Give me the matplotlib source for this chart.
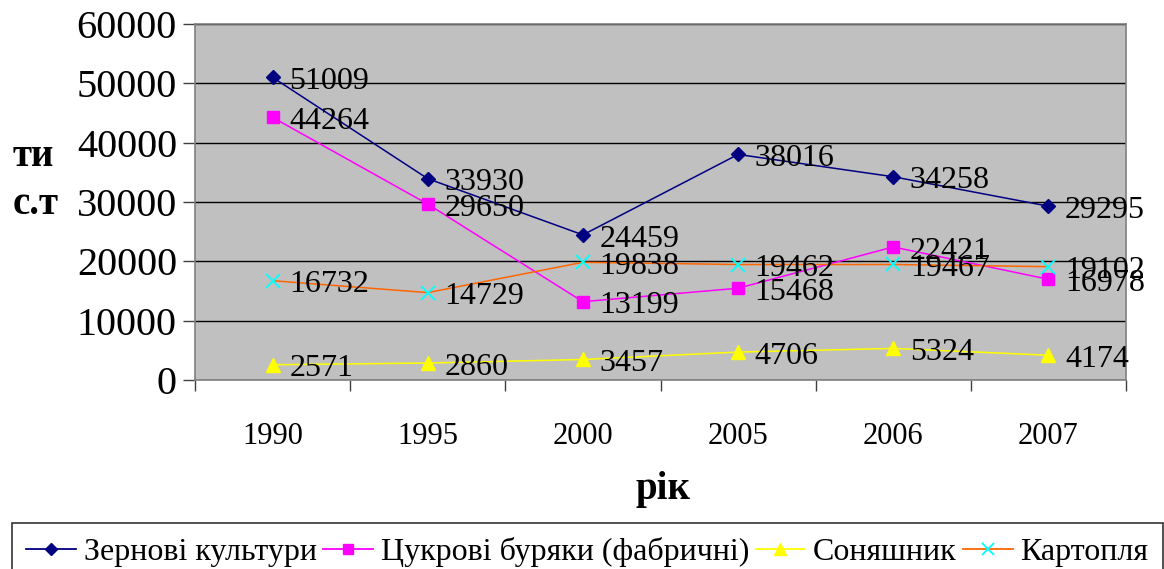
import matplotlib
matplotlib.use("Agg")
import matplotlib.pyplot as plt
from matplotlib.lines import Line2D

years = ["1990", "1995", "2000", "2005", "2006", "2007"]
grain = [51009, 33930, 24459, 38016, 34258, 29295]
beet = [44264, 29650, 13199, 15468, 22421, 16978]
sunflower = [2571, 2860, 3457, 4706, 5324, 4174]
potato = [16732, 14729, 19838, 19462, 19467, 19102]
series_names = ["Зернові культури", "Цукрові буряки (фабричні)", "Соняшник", "Картопля"]
y_ticks = [0, 10000, 20000, 30000, 40000, 50000, 60000]

plt.rcParams['font.family'] = ['Liberation Serif', 'DejaVu Serif']

W, H = 1164, 569
fig = plt.figure(figsize=(W / 100, H / 100), dpi=100)
ax = fig.add_axes([195 / W, 1 - 380 / H, (1126 - 195) / W, (380 - 24) / H])
ax.set_facecolor('#C0C0C0')

x = list(range(len(years)))
styles = [
    dict(color='#000080', marker='D', ms=7, mfc='#000080', mec='#000080'),
    dict(color='#FF00FF', marker='s', ms=9, mfc='#FF00FF', mec='#FF00FF'),
    dict(color='#FFFF00', marker='^', ms=10, mfc='#FFFF00', mec='#FFFF00'),
    dict(color='#FF6600', marker='x', ms=10, mfc='#00FFFF', mec='#00FFFF', mew=1.3),
]
data = [grain, beet, sunflower, potato]
handles = []
for vals, st, name in zip(data, styles, series_names):
    ax.plot(x, vals, lw=1.1, zorder=3, **st)
    hst = dict(st)
    hst['ms'] = st['ms'] * 0.85
    handles.append(Line2D([0], [0], lw=1.3, label=name, **hst))
    for xi, v in zip(x, vals):
        ax.annotate(str(v), (xi, v), xytext=(12, -3), textcoords='offset points',
                    ha='left', va='center', fontsize=23, zorder=4, annotation_clip=False)

ax.set_ylim(0, 60000)
ax.set_xlim(-0.5, len(years) - 0.5)
ax.set_yticks(y_ticks)
ax.set_yticklabels([str(t) for t in y_ticks], fontsize=29)
ax.tick_params(axis='y', length=9, width=1, color='#404040', pad=4, direction='out')
ax.yaxis.grid(True, color='black', lw=1)
ax.set_axisbelow(True)

ax.set_xticks(x)
ax.set_xticklabels(years, fontsize=22)
ax.tick_params(axis='x', which='major', length=0, pad=30)
ax.set_xticks([i - 0.5 for i in range(len(years) + 1)], minor=True)
ax.tick_params(axis='x', which='minor', length=8, width=1, color='#404040', direction='out')

for s in ax.spines.values():
    s.set_color('#808080')
    s.set_linewidth(1.2)

fig.text(13 / W, 1 - 157 / H, "ти", fontsize=28, fontweight='bold', ha='left', va='center')
fig.text(13 / W, 1 - 205 / H, "с.т", fontsize=28, fontweight='bold', ha='left', va='center')
fig.text(663 / W, 1 - 490 / H, "рік", fontsize=28, fontweight='bold', ha='center', va='center')

leg = fig.legend(handles=handles, loc='upper left', bbox_to_anchor=(12 / W, 1 - 523 / H),
                 ncol=4, fontsize=23, frameon=True, fancybox=False, handlelength=1.55,
                 handletextpad=0.25, columnspacing=0.2, borderpad=0.45, borderaxespad=0)
leg.get_frame().set_edgecolor('black')
leg.get_frame().set_linewidth(1.2)

fig.savefig('out.png', dpi=100)
